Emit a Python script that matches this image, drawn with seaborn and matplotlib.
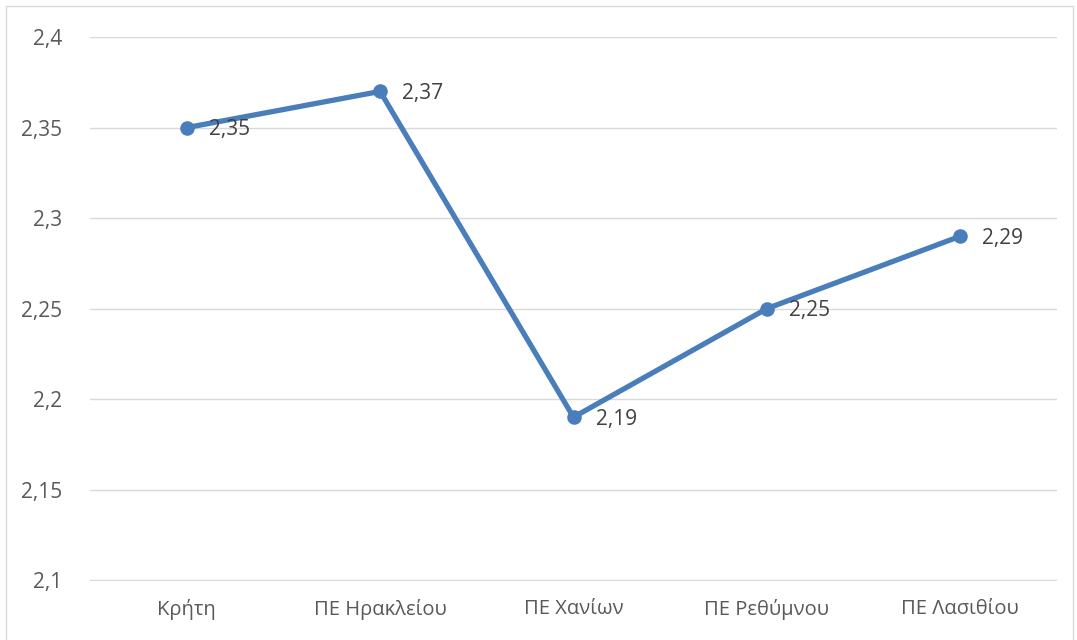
import matplotlib
matplotlib.use('Agg')
import matplotlib.pyplot as plt
import seaborn as sns
import pandas as pd
from matplotlib.patches import Rectangle

areas = ['Κρήτη', 'ΠΕ Ηρακλείου', 'ΠΕ Χανίων', 'ΠΕ Ρεθύμνου', 'ΠΕ Λασιθίου']
values = [2.35, 2.37, 2.19, 2.25, 2.29]
yticks = [2.1, 2.15, 2.2, 2.25, 2.3, 2.35, 2.4]

def fmt(v):
    return ('%.2f' % v).rstrip('0').rstrip('.').replace('.', ',')

def main():
    sns.set_style('white')
    plt.rcParams['font.family'] = ['Open Sans', 'DejaVu Sans']
    df = pd.DataFrame({'area': areas, 'value': values})

    fig = plt.figure(figsize=(10.77, 6.40), dpi=100)
    ax = fig.add_axes([0.0836, 0.0922, 0.8978, 0.8498])
    c = '#4a7ebb'
    sns.lineplot(data=df, x='area', y='value', sort=False, ax=ax, color=c,
                 linewidth=3.8, marker='o', markersize=10.5, markeredgewidth=0)

    ax.set_xlim(-0.5, len(areas) - 0.5)
    ax.set_ylim(2.0995, 2.4)
    ax.set_yticks(yticks)
    ax.set_yticklabels([fmt(t) for t in yticks])
    ax.yaxis.grid(True, color='#d9d9d9', linewidth=1)
    ax.set_axisbelow(True)
    for s in ax.spines.values():
        s.set_visible(False)
    ax.tick_params(axis='both', length=0, colors='#595959')
    ax.tick_params(axis='x', pad=13, labelsize=14.5)
    ax.tick_params(axis='y', pad=20, labelsize=15)
    ax.set_xlabel('')
    ax.set_ylabel('')

    for i, v in enumerate(values):
        ax.annotate(fmt(v), (i, v), xytext=(16, -1.5), textcoords='offset points',
                    ha='left', va='center', fontsize=15, color='#404040')

    fig.patches.append(Rectangle((0.006, -0.01), 0.99, 1.0, transform=fig.transFigure,
                                 fill=False, edgecolor='#d9d9d9', linewidth=1))
    fig.savefig('out.png', dpi=100)

if __name__ == '__main__':
    main()
